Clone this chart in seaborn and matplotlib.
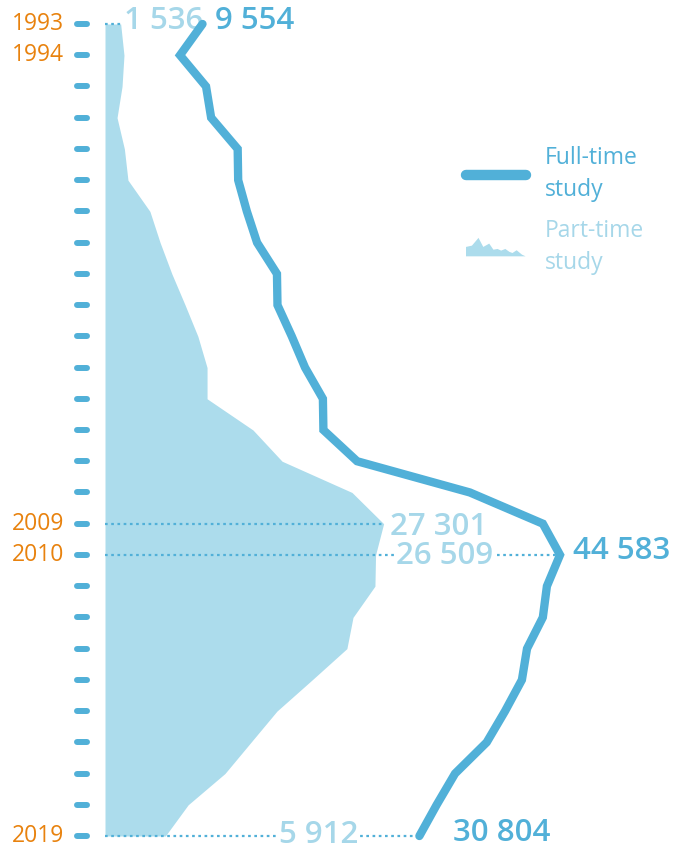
import numpy as np
import matplotlib
matplotlib.use('Agg')
import matplotlib.pyplot as plt
from matplotlib.lines import Line2D
from matplotlib.patches import Patch, Polygon
from matplotlib.legend_handler import HandlerPatch
import seaborn as sns

# data
years = np.arange(1993, 2020)
full_time = [9554, 7350, 9900, 10400, 13000, 13050, 13900, 14900, 16850, 16900,
             18300, 19600, 21350, 21400, 24700, 35750, 42900, 44583, 43300, 42900,
             41350, 40850, 39200, 37400, 34300, 32500, 30804]
part_time = [1536, 1860, 1670, 1180, 1900, 2250, 4400, 5400, 6550, 7850,
             9100, 10000, 10000, 14500, 17350, 24200, 27301, 26509, 26450, 24300,
             23700, 20300, 16850, 14300, 11750, 8150, 5912]
labelled_years = [1993, 1994, 2009, 2010, 2019]
legend_labels = ['Full-time\nstudy', 'Part-time\nstudy']

blue = '#51B0D8'
light = '#ACDCEC'
light_text = '#A6D7E9'
orange = '#E8820E'

sns.set_theme(style='white')
plt.rcParams['font.family'] = ['Open Sans', 'DejaVu Sans']


def fmt(v):
    return f'{v:,}'.replace(',', ' ')


def val(series, year):
    return series[year - 1993]


fig = plt.figure(figsize=(6.8, 8.52), dpi=100)
ax = fig.add_axes([0, 0, 1, 1])
ax.set_xlim(-10288, 56340)
ax.set_ylim(2019.512, 1992.232)
ax.axis('off')

# part-time area
ax.fill_betweenx(years, 0, part_time, color=light, lw=0, zorder=1)

# year dashes on the left
ax.hlines(years, 0.1132, 0.128, transform=ax.get_yaxis_transform(),
          color=blue, lw=4.3, capstyle='round', zorder=2)
for y in labelled_years:
    ax.text(0.094, y, str(y), transform=ax.get_yaxis_transform(),
            ha='right', va='center', fontsize=16.5, color=orange)

# dotted guide lines
dot = dict(color=blue, lw=1.6, linestyles=[(0, (1.2, 1.6))], zorder=2)
ax.hlines(1993, 0, val(part_time, 1993), **dot)
ax.hlines(2009, 0, val(part_time, 2009), **dot)
ax.hlines(2010, 0, val(full_time, 2010), **dot)
ax.hlines(2019, 0, val(full_time, 2019), **dot)

# full-time line
sns.lineplot(x=full_time, y=years, orient='y', color=blue, linewidth=6,
             solid_capstyle='round', solid_joinstyle='miter', legend=False,
             ax=ax, zorder=4)

white_box = dict(boxstyle='square,pad=0.05', fc='white', ec='none')


def label(text, x, year, dx, dy, color, ha='left', box=None, z=3):
    ax.annotate(text, xy=(x, year), xytext=(dx, dy), textcoords='offset points',
                ha=ha, va='center', fontsize=22.5, fontweight='semibold',
                color=color, bbox=box, zorder=z)


label(fmt(val(part_time, 1993)), val(part_time, 1993), 1993, 2.5, 2, light_text)
label(fmt(val(full_time, 1993)), val(full_time, 1993), 1993, 9, 2, blue)
label(fmt(val(part_time, 2009)), val(part_time, 2009), 2009, 4.5, -2.5, light_text, z=5)
label(fmt(val(part_time, 2010)), val(part_time, 2010), 2010, 15, -1, light_text,
      box=white_box)
label(fmt(val(full_time, 2010)), val(full_time, 2010), 2010, 9, 3, blue)
label(fmt(val(part_time, 2019)), val(full_time, 2019), 2019, -44, 0.5, light_text,
      ha='right', box=white_box)
label(fmt(val(full_time, 2019)), val(full_time, 2019), 2019, 24, 2, blue)


class MountainHandler(HandlerPatch):
    def create_artists(self, legend, orig_handle, xdescent, ydescent,
                       width, height, fontsize, trans):
        fx = np.array([0, 0, .10, .21, .29, .39, .46, .53, .59, .66, .73, .78, .85, .94, 1])
        fy = np.array([0, .51, .58, 1.0, .51, .69, .36, .40, .31, .40, .24, .18, .33, .09, 0])
        xy = np.column_stack([-xdescent + fx * width, -ydescent + fy * height * 1.15])
        p = Polygon(xy, closed=True, facecolor=orig_handle.get_facecolor(),
                    edgecolor='none', transform=trans)
        return [p]


handles = [Line2D([], [], color=blue, lw=7.5, solid_capstyle='round'),
           Patch(facecolor=light)]
leg = ax.legend(handles=handles, labels=legend_labels,
                handler_map={Patch: MountainHandler()},
                loc='upper left', bbox_to_anchor=(466 / 680, 1 - 146 / 852),
                bbox_transform=fig.transFigure, frameon=False, fontsize=16.5,
                handlelength=2.6, handletextpad=0.85, labelspacing=0.75,
                borderpad=0, borderaxespad=0)
for t, c in zip(leg.get_texts(), [blue, light_text]):
    t.set_color(c)
    t.set_linespacing(1.45)

fig.savefig('out.png', dpi=100)
